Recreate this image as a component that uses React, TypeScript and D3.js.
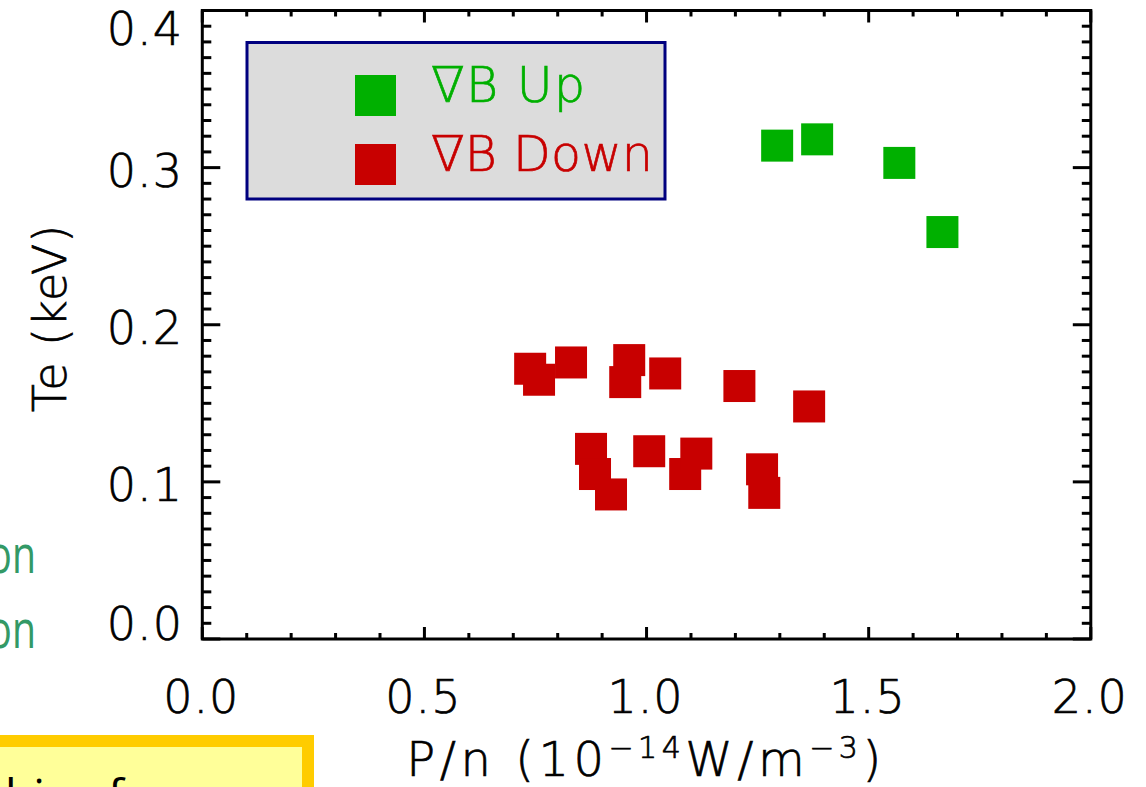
import React from "react";
import * as d3 from "d3";

// ---- data ----
const upX = [1.294, 1.384, 1.569, 1.666];
const upY = [0.314, 0.318, 0.303, 0.259];

const downX = [0.738, 0.758, 0.83, 0.961, 0.952, 1.042, 1.209, 1.366, 0.875, 0.884, 0.92, 1.006, 1.087, 1.112, 1.26, 1.265];
const downY = [0.172, 0.165, 0.176, 0.1775, 0.1635, 0.169, 0.161, 0.148, 0.121, 0.105, 0.092, 0.1195, 0.105, 0.118, 0.108, 0.093];

const xTickValues = [0, 0.5, 1.0, 1.5, 2.0];
const xTickLabels = ["0.0", "0.5", "1.0", "1.5", "2.0"];
const yTickValues = [0, 0.1, 0.2, 0.3, 0.4];
const yTickLabels = ["0.0", "0.1", "0.2", "0.3", "0.4"];

const seriesNames = ["∇B Up", "∇B Down"];
const seriesColors = ["#00b000", "#c80000"];

const W = 1146;
const H = 787;
const FONT = "'DejaVu Sans', sans-serif";

export default function App() {
  const left = 202.3, right = 1090.8, top = 10.5, bottom = 639;
  const x = d3.scaleLinear().domain([0, 2]).range([left, right]);
  const y = d3.scaleLinear().domain([0, 0.4]).range([bottom, top]);

  const xMinor = x.ticks(20);
  const yMinor = y.ticks(40);
  const isMajor = (v: number, step: number) => Math.abs(v / step - Math.round(v / step)) < 1e-6;

  const ms = 32;
  const up = upX.map((v, i) => [v, upY[i]]);
  const down = downX.map((v, i) => [v, downY[i]]);

  const textStyle = { stroke: "currentColor", strokeWidth: 0.7 } as any;

  return (
    <svg width={W} height={H} style={{ position: "absolute", left: 0, top: 0, background: "#fff" }} fontFamily={FONT}>
      {/* clipped slide remnants */}
      <text transform="translate(36,573) scale(0.74,1)" fontSize={53} fill="#339966" textAnchor="end" fontFamily="'Open Sans', sans-serif">on</text>
      <text transform="translate(36,648) scale(0.74,1)" fontSize={53} fill="#339966" textAnchor="end" fontFamily="'Open Sans', sans-serif">on</text>
      <rect x={-20} y={741} width={328} height={80} fill="#ffff99" stroke="#ffcc00" strokeWidth={12} />
      <text x={5} y={812} fontSize={46} fill="#000" fontFamily="'Open Sans', sans-serif">hi</text>
      <text x={108} y={812} fontSize={46} fill="#000" fontFamily="'Open Sans', sans-serif">f</text>

      {/* markers */}
      {down.map((d, i) => (
        <rect key={"d" + i} x={x(d[0]) - ms / 2} y={y(d[1]) - ms / 2} width={ms} height={ms} fill={seriesColors[1]} />
      ))}
      {up.map((d, i) => (
        <rect key={"u" + i} x={x(d[0]) - ms / 2} y={y(d[1]) - ms / 2} width={ms} height={ms} fill={seriesColors[0]} />
      ))}

      {/* ticks */}
      <g stroke="#000" strokeWidth={3}>
        {xMinor.map((v, i) => {
          const len = isMajor(v, 0.5) ? 12 : 6;
          return (
            <g key={"xt" + i}>
              <line x1={x(v)} x2={x(v)} y1={bottom} y2={bottom - len} />
              <line x1={x(v)} x2={x(v)} y1={top} y2={top + len} />
            </g>
          );
        })}
        {yMinor.map((v, i) => {
          const len = isMajor(v, 0.1) ? 18 : 9;
          return (
            <g key={"yt" + i}>
              <line x1={left} x2={left + len} y1={y(v)} y2={y(v)} />
              <line x1={right} x2={right - len} y1={y(v)} y2={y(v)} />
            </g>
          );
        })}
      </g>

      {/* frame */}
      <rect x={left} y={top} width={right - left} height={bottom - top} fill="none" stroke="#000" strokeWidth={3} />

      {/* tick labels */}
      <g fill="#000" color="#000" style={textStyle}>
        {xTickValues.map((v, i) => (
          <text key={"xl" + i} x={x(v) - 1} y={713} fontSize={46} fontWeight={300} textAnchor="middle" letterSpacing={1}>
            {xTickLabels[i]}
          </text>
        ))}
        {yTickValues.map((v, i) => {
          const cy = Math.min(Math.max(y(v) + 2.5, 28.5), 623.5);
          return (
            <text key={"yl" + i} x={183} y={cy + 16.5} fontSize={46} fontWeight={300} textAnchor="end" letterSpacing={1}>
              {yTickLabels[i]}
            </text>
          );
        })}

        {/* axis titles */}
        <text transform="translate(66,318) rotate(-90)" fontSize={46} fontWeight={300} textAnchor="middle" letterSpacing={1}>
          Te (keV)
        </text>
        <text x={646} y={776} fontSize={48} fontWeight={300} textAnchor="middle" letterSpacing={4.5}>
          P/n (10
          <tspan fontSize={30} dy={-18}>−14</tspan>
          <tspan dy={18}>W/m</tspan>
          <tspan fontSize={30} dy={-18}>−3</tspan>
          <tspan dy={18}>)</tspan>
        </text>
      </g>

      {/* legend */}
      <rect x={247} y={42.5} width={418} height={156.5} fill="#dcdcdc" stroke="#00007f" strokeWidth={3} />
      {seriesNames.map((name, i) => (
        <g key={"lg" + i}>
          <rect x={355} y={75 + i * 69} width={41} height={41} fill={seriesColors[i]} />
          <text x={431} y={102 + i * 69} fontSize={49} fontWeight={300} fill={seriesColors[i]} color={seriesColors[i]} style={textStyle} letterSpacing={i === 0 ? 1.5 : 0.3}>
            {name}
          </text>
        </g>
      ))}
    </svg>
  );
}
